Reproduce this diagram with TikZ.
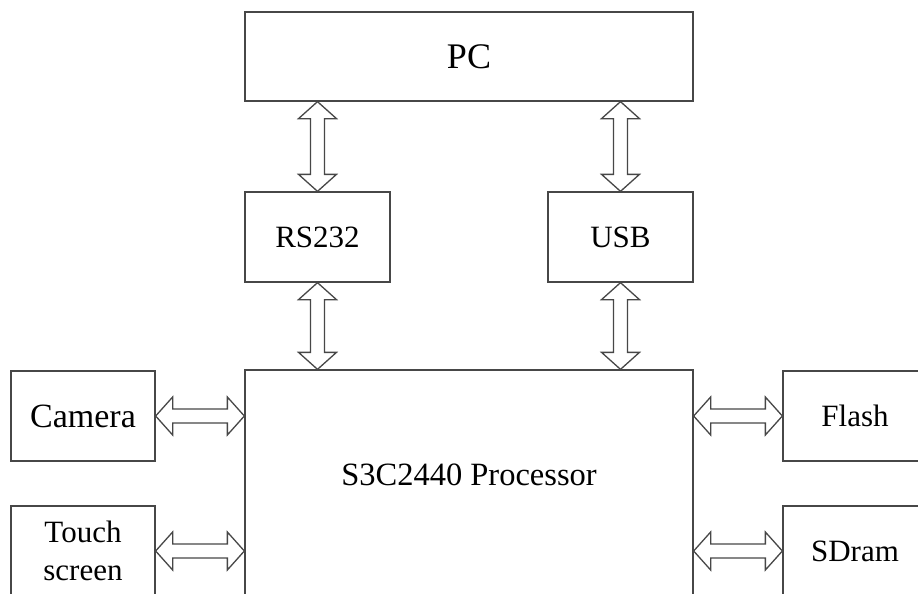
\documentclass[tikz,border=0pt]{standalone}
\usepackage{fontspec}
\setmainfont{Liberation Serif}
\usetikzlibrary{calc}
\tikzset{
  box/.style={draw=black!72, line width=1.3pt, fill=white, rectangle, inner sep=2pt,
    font=\fontsize{31}{38}\selectfont, align=center},
  biarrow/.style={draw=black!72, line width=1.3pt, fill=white, line join=miter},
}
\newcommand\vbiarrow[2]{%
  \draw[biarrow] let \p1=(#1), \p2=(#2) in
    (\x1,\y1) -- (\x1+19pt,\y1-17pt) -- (\x1+7pt,\y1-17pt) -- (\x1+7pt,\y2+17pt)
    -- (\x1+19pt,\y2+17pt) -- (\x1,\y2) -- (\x1-19pt,\y2+17pt) -- (\x1-7pt,\y2+17pt)
    -- (\x1-7pt,\y1-17pt) -- (\x1-19pt,\y1-17pt) -- cycle;}
\newcommand\hbiarrow[2]{%
  \draw[biarrow] let \p1=(#1), \p2=(#2) in
    (\x1,\y1) -- (\x1+17pt,\y1+19pt) -- (\x1+17pt,\y1+7pt) -- (\x2-17pt,\y1+7pt)
    -- (\x2-17pt,\y1+19pt) -- (\x2,\y1) -- (\x2-17pt,\y1-19pt) -- (\x2-17pt,\y1-7pt)
    -- (\x1+17pt,\y1-7pt) -- (\x1+17pt,\y1-19pt) -- cycle;}
\begin{document}
\begin{tikzpicture}[x=1pt,y=-1pt]
  \useasboundingbox (0,0) rectangle (918,594);
  \clip (0,0) rectangle (918,594);
  \node[box, minimum width=448pt, minimum height=89pt, font=\fontsize{36}{42}\selectfont] (pc) at (469,56.5) {PC};
  \node[box, minimum width=145pt, minimum height=90pt] (rs) at (317.5,237) {RS232};
  \node[box, minimum width=145pt, minimum height=90pt] (usb) at (620.5,237) {USB};
  \node[box, minimum width=448pt, minimum height=260pt,
        label={[font=\fontsize{32.5}{38}\selectfont, yshift=25pt]center:S3C2440 Processor}]
        (proc) at (469,500) {};
  \node[box, minimum width=144pt, minimum height=90pt, font=\fontsize{34}{40}\selectfont] (cam) at (83,416) {Camera};
  \node[box, minimum width=144pt, minimum height=90pt] (touch) at (83,551) {Touch\\screen};
  \node[box, minimum width=144pt, minimum height=90pt] (flash) at (855,416) {Flash};
  \node[box, minimum width=144pt, minimum height=90pt] (sd) at (855,551) {SDram};
  \vbiarrow{pc.south -| rs.north}{rs.north}
  \vbiarrow{pc.south -| usb.north}{usb.north}
  \vbiarrow{rs.south}{rs.south |- proc.north}
  \vbiarrow{usb.south}{usb.south |- proc.north}
  \hbiarrow{cam.east}{cam.east -| proc.west}
  \hbiarrow{touch.east}{touch.east -| proc.west}
  \hbiarrow{proc.east |- flash.west}{flash.west}
  \hbiarrow{proc.east |- sd.west}{sd.west}
\end{tikzpicture}
\end{document}
